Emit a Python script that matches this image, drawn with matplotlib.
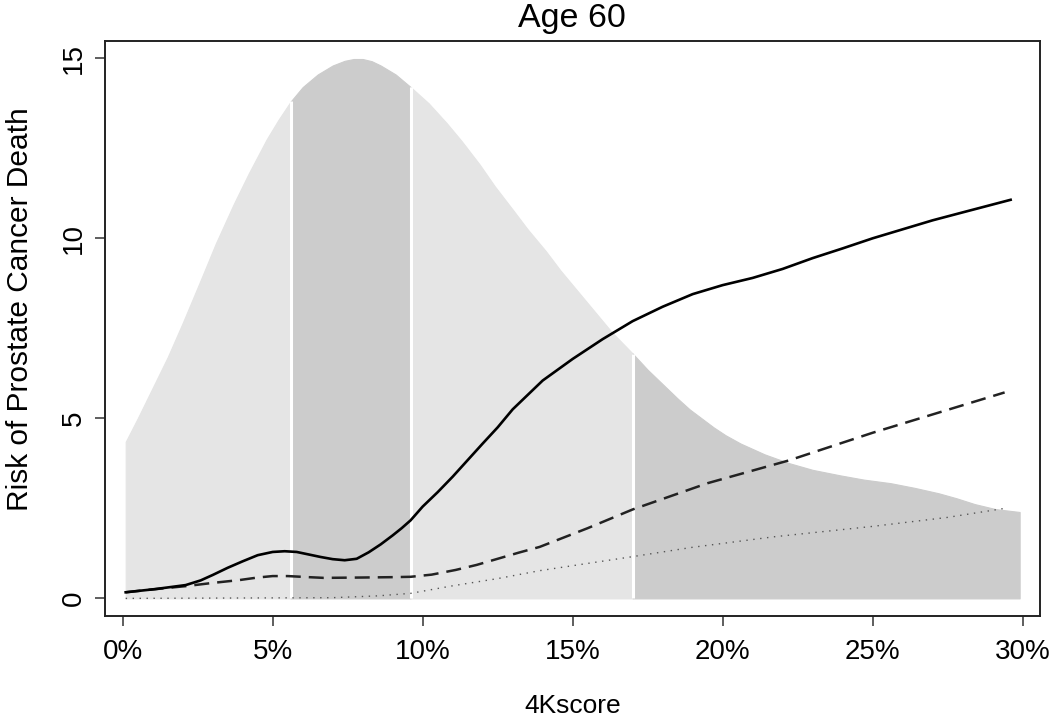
import numpy as np
import matplotlib
matplotlib.use("Agg")
import matplotlib.pyplot as plt

# 4Kscore in percent
dens_x = [0.1, 0.5, 1.0, 1.5, 2.0, 2.6, 3.1, 3.7, 4.2, 4.8, 5.2, 5.6, 6.0, 6.5,
          7.0, 7.4, 7.7, 8.0, 8.3, 8.6, 9.1, 9.6, 10.2, 10.8, 11.3, 11.9, 12.4,
          13.0, 13.5, 14.1, 14.6, 15.2, 15.8, 16.3, 17.0, 17.5, 18.0, 18.5, 18.9,
          19.3, 19.7, 20.1, 20.6, 21.4, 22.2, 23.0, 23.9, 24.7, 25.6, 26.4, 27.2,
          27.8, 28.4, 29.1, 29.9]
dens_y = [4.35, 5.0, 5.85, 6.7, 7.65, 8.84, 9.85, 10.95, 11.8, 12.75, 13.3, 13.8,
          14.2, 14.55, 14.8, 14.93, 14.98, 14.98, 14.92, 14.8, 14.55, 14.2, 13.75,
          13.2, 12.7, 12.05, 11.45, 10.8, 10.25, 9.65, 9.1, 8.5, 7.9, 7.4, 6.8, 6.35,
          5.95, 5.55, 5.25, 5.0, 4.75, 4.53, 4.3, 4.0, 3.76, 3.57, 3.42, 3.3, 3.2,
          3.07, 2.92, 2.78, 2.62, 2.48, 2.4]
band_edges = [0.1, 5.6, 9.6, 17.0, 29.9]

solid_x = [0.1, 1.1, 2.1, 2.6, 3.0, 3.5, 4.0, 4.5, 5.0, 5.4, 5.8, 6.2, 6.6, 7.0,
           7.4, 7.8, 8.2, 8.6, 9.0, 9.3, 9.6, 10.0, 10.5, 11.0, 11.5, 12.0, 12.5,
           13.0, 14.0, 15.0, 16.0, 17.0, 18.0, 19.0, 20.0, 21.0, 22.0, 23.0, 24.0,
           25.0, 26.0, 27.0, 28.0, 29.6]
solid_y = [0.17, 0.26, 0.37, 0.5, 0.65, 0.85, 1.03, 1.2, 1.29, 1.31, 1.29, 1.22,
           1.15, 1.09, 1.06, 1.1, 1.28, 1.5, 1.75, 1.95, 2.17, 2.55, 2.95, 3.38,
           3.84, 4.3, 4.75, 5.25, 6.05, 6.65, 7.2, 7.7, 8.1, 8.45, 8.7, 8.9, 9.15,
           9.45, 9.72, 10.0, 10.25, 10.5, 10.72, 11.07]

dashed_x = [0.1, 1.0, 2.1, 3.0, 3.9, 4.5, 5.0, 5.5, 6.2, 6.7, 8.0, 9.0, 9.6, 10.3,
            11.1, 11.8, 12.5, 13.2, 13.9, 15.5, 17.0, 19.5, 22.2, 25.0, 29.4]
dashed_y = [0.17, 0.25, 0.34, 0.43, 0.51, 0.58, 0.62, 0.62, 0.59, 0.57, 0.58, 0.59,
            0.6, 0.66, 0.79, 0.93, 1.1, 1.27, 1.43, 1.95, 2.47, 3.2, 3.83, 4.6, 5.72]

dotted_x = [0.1, 7.0, 8.5, 9.6, 11.0, 12.5, 13.9, 17.0, 19.0, 21.7, 25.0, 27.5, 29.4]
dotted_y = [0.0, 0.02, 0.07, 0.14, 0.35, 0.55, 0.77, 1.16, 1.42, 1.71, 2.0, 2.25, 2.5]

x_ticks = [0, 5, 10, 15, 20, 25, 30]
x_labels = ["0%", "5%", "10%", "15%", "20%", "25%", "30%"]
y_ticks = [0, 5, 10, 15]

plt.rcParams["font.family"] = ["Liberation Sans", "DejaVu Sans"]

fig = plt.figure(figsize=(10.5, 7.18), dpi=100)
ax = fig.add_axes([0.0997, 0.142, 0.8908, 0.8009])

dx = np.array(dens_x)
dy = np.array(dens_y)
band_colors = ["#e5e5e5", "#cccccc", "#e5e5e5", "#cccccc"]
for i, col in enumerate(band_colors):
    m = (dx >= band_edges[i]) & (dx <= band_edges[i + 1])
    ax.fill_between(dx[m], 0, dy[m], color=col, lw=0.8, edgecolor=col, zorder=1)

# white separators between bands
for e in band_edges[1:-1]:
    k = dens_x.index(e)
    ax.vlines(e, 0, dens_y[k], color="white", lw=2.2, zorder=2)

ax.plot(dotted_x, dotted_y, color="#555555", lw=1.0, linestyle=(0, (1, 4)), zorder=3)
ax.plot(dashed_x, dashed_y, color="#222222", lw=1.8, linestyle=(0, (6, 3.2)), zorder=4)
ax.plot(solid_x, solid_y, color="black", lw=1.9, solid_joinstyle="round", zorder=5)

ax.set_xlim(-0.6, 30.58)
ax.set_ylim(-0.49, 15.48)
ax.set_xticks(x_ticks)
ax.set_xticklabels(x_labels)
ax.set_yticks(y_ticks)
ax.set_yticklabels([str(v) for v in y_ticks], rotation=90, va="center")
ax.tick_params(axis="both", direction="out", length=7.5, width=1.1,
               color="#333333", labelsize=20)
ax.tick_params(axis="x", pad=9)
ax.tick_params(axis="y", pad=5)
for s in ax.spines.values():
    s.set_linewidth(1.4)
    s.set_color("#222222")

ax.set_xlabel("4Kscore", fontsize=19, va="baseline")
ax.xaxis.set_label_coords(0.5, -0.168)
ax.set_ylabel("Risk of Prostate Cancer Death", fontsize=21.5, va="center")
ax.yaxis.set_label_coords(-0.091, 0.534)
ax.set_title("Age 60", fontsize=24.5, pad=10)

plt.savefig("out.png", dpi=100)
plt.close()
